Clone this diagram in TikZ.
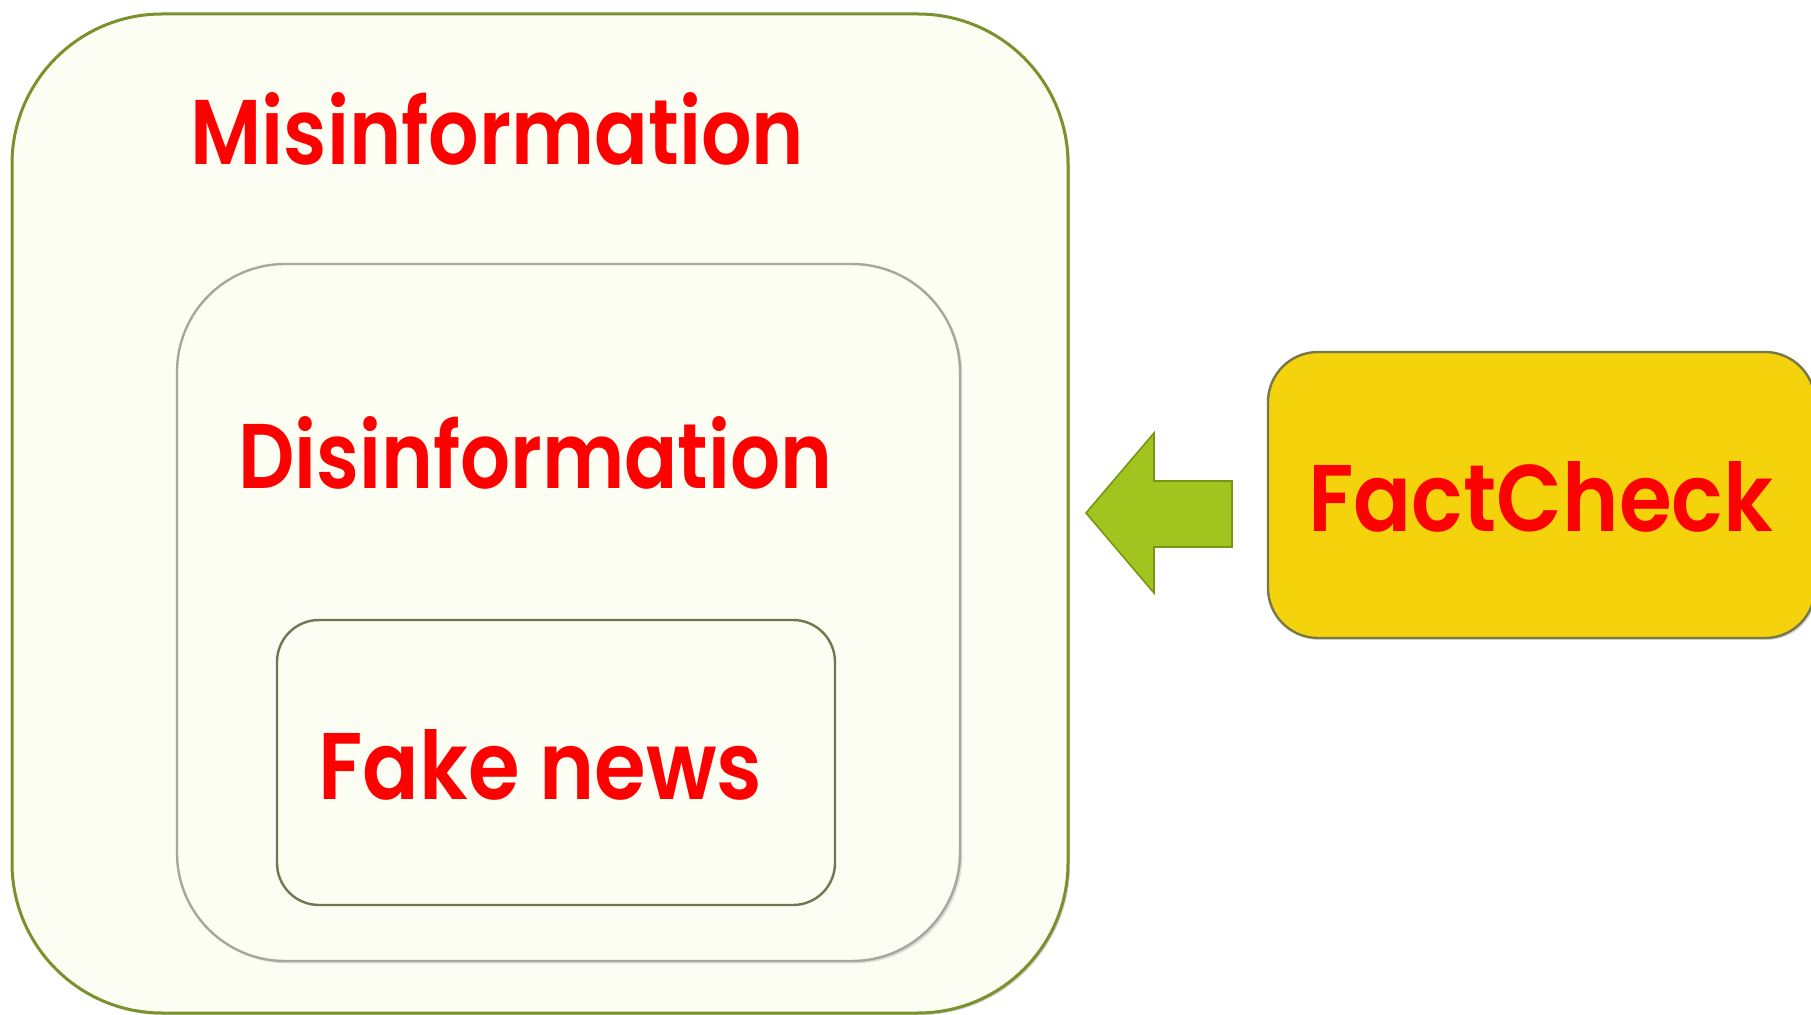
\documentclass[tikz,border=0pt]{standalone}
\usepackage{fontspec}
\setmainfont{Poppins}
\newfontfamily\lblfont{Poppins SemiBold}
\usetikzlibrary{shadows}
\definecolor{cream}{RGB}{252,253,243}
\definecolor{outerline}{RGB}{122,145,45}
\definecolor{midline}{RGB}{165,168,158}
\definecolor{innerline}{RGB}{110,120,80}
\definecolor{fcyellow}{RGB}{244,210,12}
\definecolor{fcline}{RGB}{120,120,70}
\definecolor{arrowgreen}{RGB}{162,196,30}
\definecolor{arrowedge}{RGB}{120,150,20}
\definecolor{txtred}{RGB}{255,0,0}
\newcommand{\fitlbl}[3]{\resizebox{#1}{#2}{\lblfont #3}}
\tikzset{
  box/.style={rectangle, inner sep=0pt, fill=cream},
  label/.style={anchor=base west, inner sep=0pt, text=txtred, font=\fontsize{46}{50}\selectfont},
}
\begin{document}
\begin{tikzpicture}[x=0.5pt,y=-0.5pt]
\useasboundingbox (0,0) rectangle (1811,1015);
\node[box, draw=outerline, line width=1.5pt, rounded corners=75pt,
      minimum width=528pt, minimum height=499.5pt,
      drop shadow={shadow xshift=1pt, shadow yshift=-1pt, opacity=0.35}] (outer) at (540,513.5) {};
\node[box, draw=midline, line width=1.2pt, rounded corners=54pt,
      minimum width=391.5pt, minimum height=348.5pt,
      drop shadow={shadow xshift=1.2pt, shadow yshift=-1.2pt, opacity=0.25}] (mid) at (568.5,612.5) {};
\node[box, draw=innerline, line width=1.2pt, rounded corners=21pt,
      minimum width=279pt, minimum height=142.5pt] (inner) at (556,762.5) {};
\node[box, fill=fcyellow, draw=fcline, line width=1.2pt, rounded corners=25pt,
      minimum width=273.5pt, minimum height=143pt,
      drop shadow={shadow xshift=1pt, shadow yshift=-1pt, opacity=0.3}] (fc) at (1541.5,495) {};
\node[label] (mis) at (190,165) {\fitlbl{307pt}{36pt}{Misinformation}};
\node[label] (dis) at (238,489) {\fitlbl{297pt}{36pt}{Disinformation}};
\node[label] (fake) at (318,799) {\fitlbl{222pt}{35pt}{Fake news}};
\node[label] (fct) at (1308,532) {\fitlbl{232.5pt}{35pt}{FactCheck}};
\coordinate (tip) at (1086,513);
\draw[fill=arrowgreen, draw=arrowedge, line width=0.8pt, line join=miter]
  (tip) -- (1154,433) -- (1154,481) -- (1232,481) -- (1232,547) -- (1154,547) -- (1154,593) -- cycle;
\end{tikzpicture}
\end{document}
